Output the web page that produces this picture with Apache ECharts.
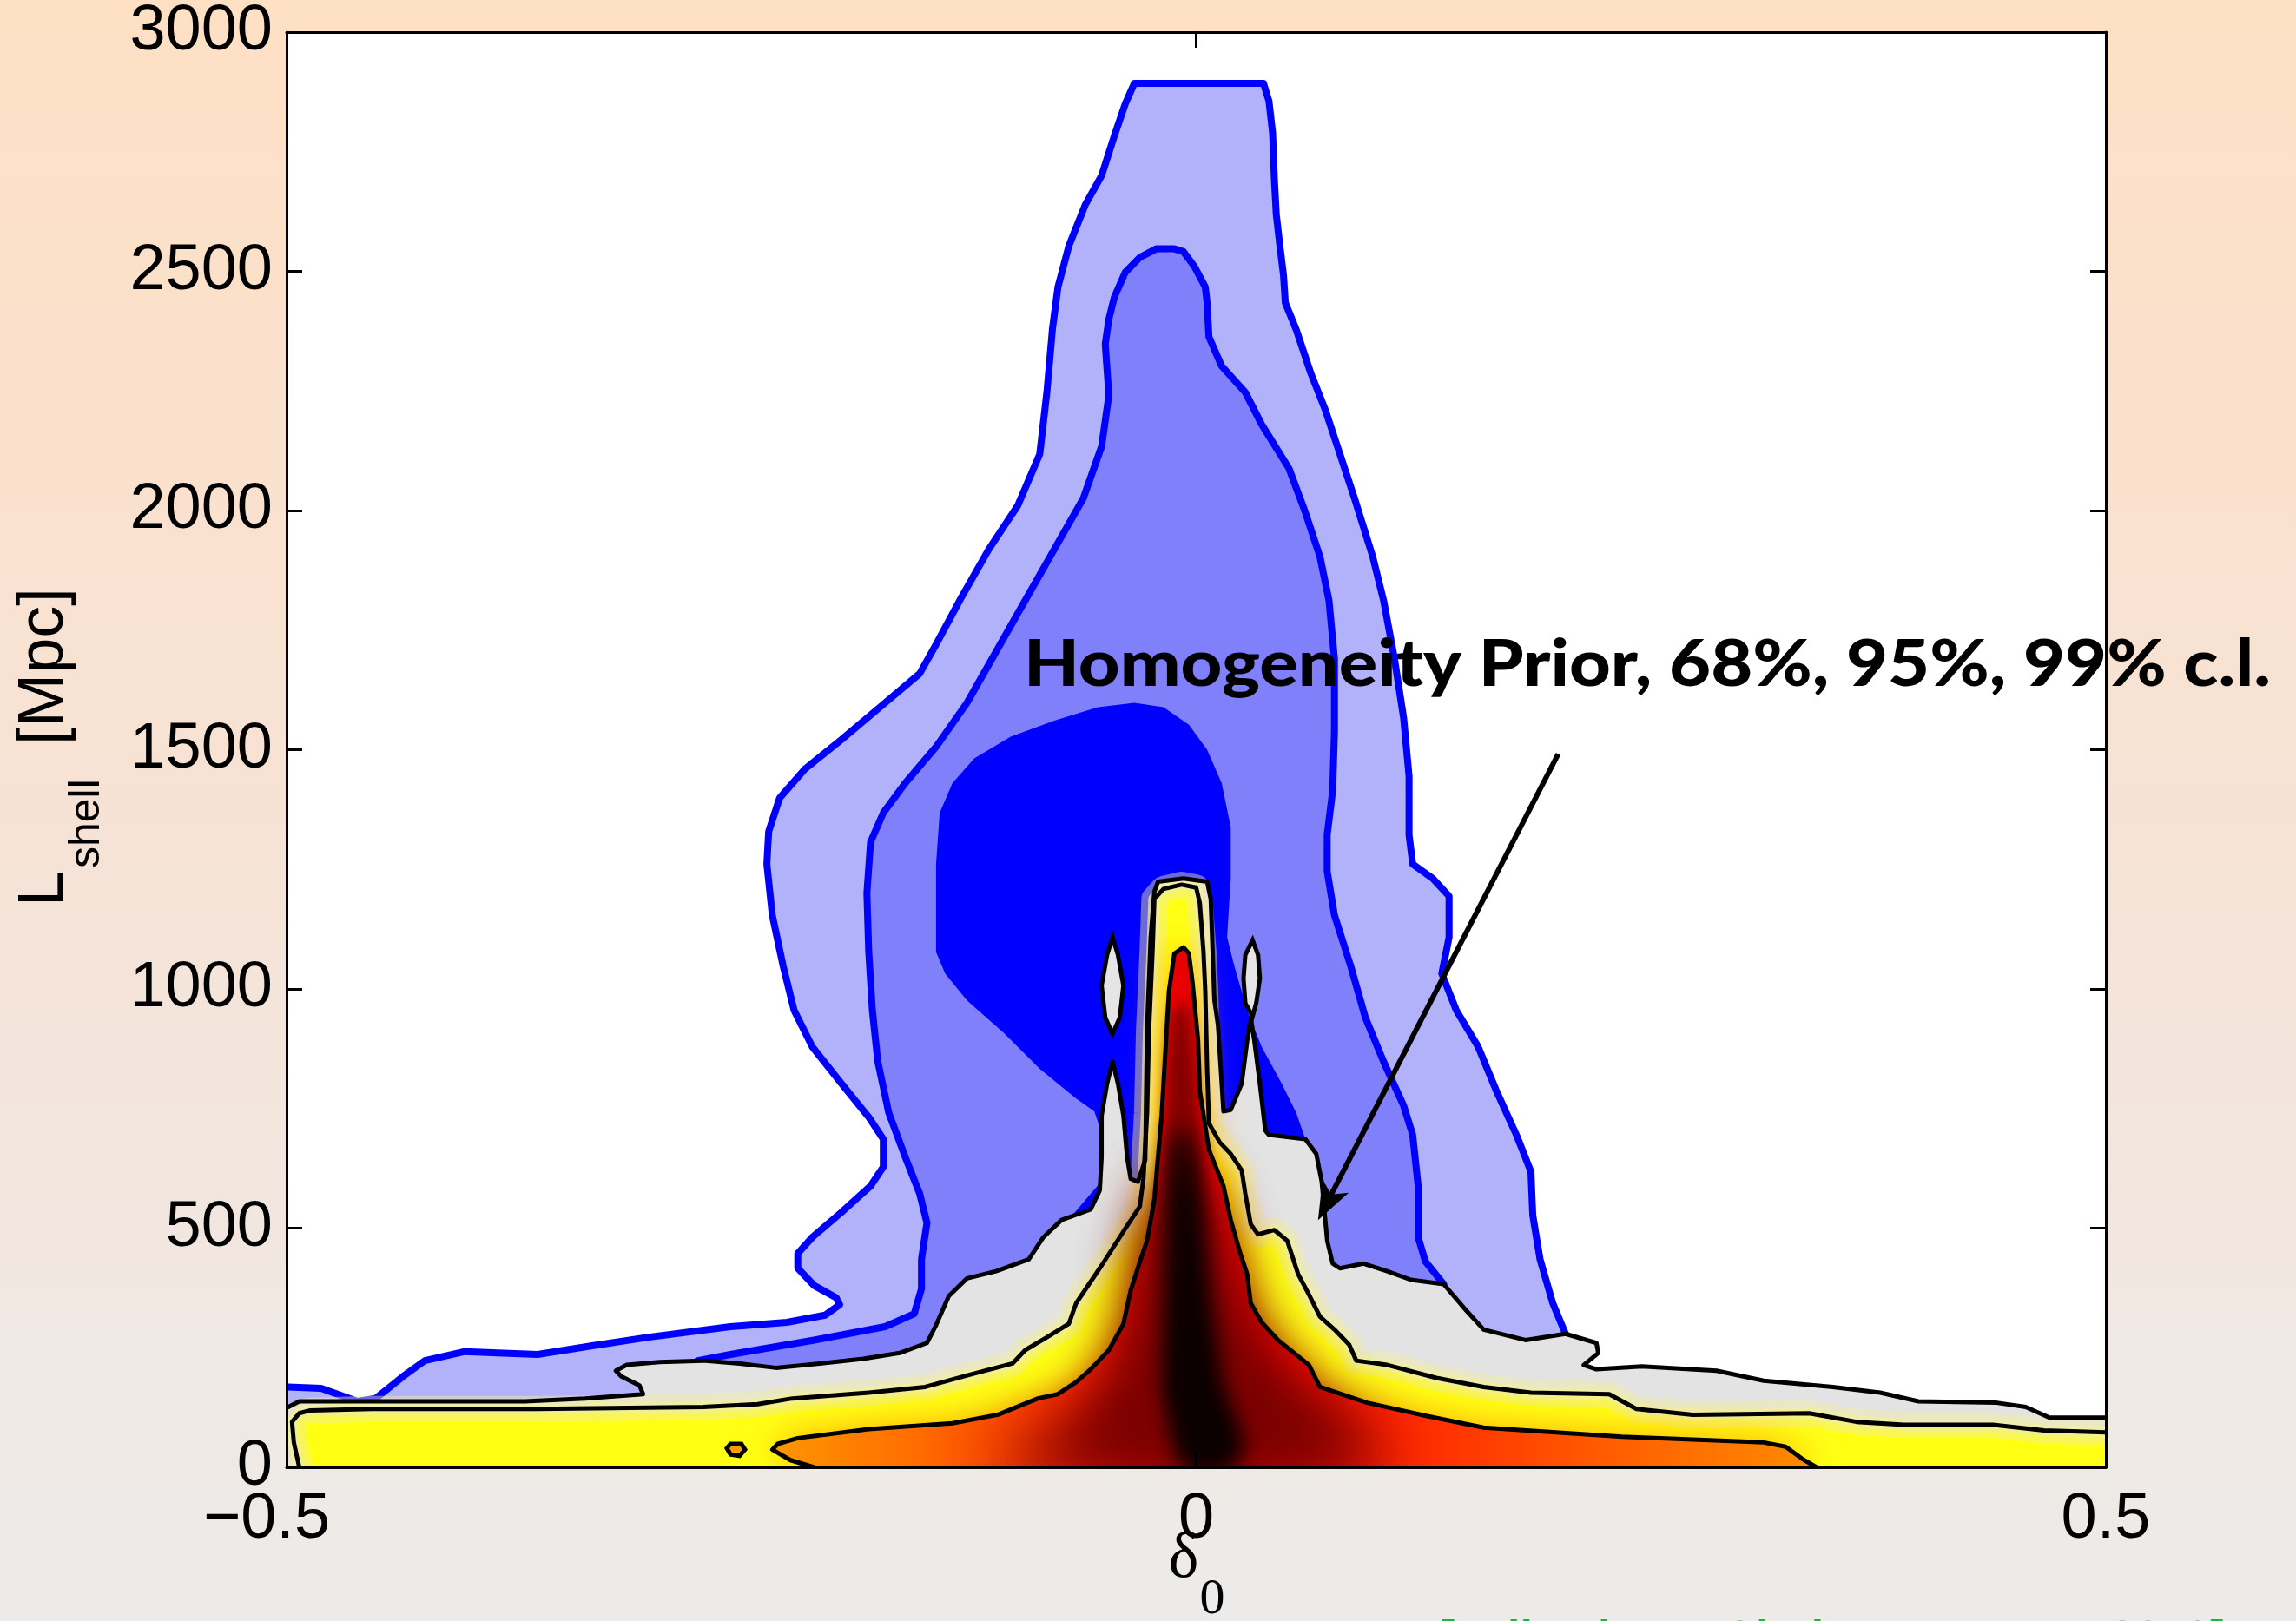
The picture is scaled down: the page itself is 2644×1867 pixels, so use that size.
<!DOCTYPE html>
<html><head><meta charset="utf-8">
<script src="https://cdn.jsdelivr.net/npm/echarts@6/dist/echarts.min.js"></script>
<style>html,body{margin:0;padding:0;background:#f3e5da;}#c{width:2644px;height:1867px;}</style>
</head><body><div id="c"></div>
<script>
// ---- axis ticks ----
const xTicks = [-0.5, 0, 0.5];
const yTicks = [0, 500, 1000, 1500, 2000, 2500, 3000];

// ---- homogeneity prior contours (blue), [delta0, L_shell] ----
const priorOuter99 = [[-0.499,0],[-0.499,168],[-0.481,165],[-0.461,138],[-0.451,144],[-0.436,190],[-0.424,223],[-0.402,242],[-0.384,239],[-0.362,236],[-0.332,254],[-0.301,272],[-0.256,294],[-0.225,303],[-0.204,318],[-0.196,340],[-0.198,355],[-0.210,380],[-0.219,416],[-0.219,447],[-0.211,481],[-0.195,533],[-0.179,588],[-0.172,628],[-0.172,686],[-0.180,732],[-0.195,802],[-0.211,879],[-0.221,955],[-0.227,1047],[-0.233,1154],[-0.236,1261],[-0.235,1329],[-0.229,1399],[-0.215,1460],[-0.195,1521],[-0.171,1598],[-0.152,1659],[-0.143,1720],[-0.130,1812],[-0.114,1919],[-0.098,2011],[-0.086,2118],[-0.082,2250],[-0.079,2380],[-0.076,2467],[-0.070,2553],[-0.061,2639],[-0.052,2700],[-0.045,2783],[-0.039,2850],[-0.034,2893],[0.037,2893],[0.040,2856],[0.042,2789],[0.043,2691],[0.044,2620],[0.046,2553],[0.048,2492],[0.049,2434],[0.055,2378],[0.063,2287],[0.071,2210],[0.079,2118],[0.087,2026],[0.097,1904],[0.103,1812],[0.109,1690],[0.114,1567],[0.117,1445],[0.117,1322],[0.119,1261],[0.130,1231],[0.139,1194],[0.139,1108],[0.135,1032],[0.143,955],[0.155,879],[0.165,787],[0.176,695],[0.184,618],[0.185,527],[0.189,435],[0.196,343],[0.203,279],[0.203,0]];
const priorMid95 = [[-0.274,0],[-0.274,223],[-0.256,236],[-0.210,266],[-0.171,294],[-0.155,321],[-0.151,373],[-0.151,435],[-0.148,511],[-0.152,572],[-0.160,649],[-0.169,741],[-0.175,848],[-0.178,955],[-0.180,1078],[-0.181,1200],[-0.179,1307],[-0.172,1368],[-0.160,1430],[-0.143,1506],[-0.126,1598],[-0.110,1705],[-0.094,1812],[-0.078,1919],[-0.062,2026],[-0.052,2134],[-0.048,2241],[-0.050,2348],[-0.048,2400],[-0.045,2446],[-0.039,2498],[-0.031,2529],[-0.022,2547],[-0.012,2547],[-0.007,2541],[-0.001,2510],[0.005,2467],[0.006,2434],[0.007,2363],[0.014,2302],[0.027,2247],[0.036,2180],[0.051,2088],[0.060,1996],[0.068,1904],[0.073,1812],[0.076,1690],[0.076,1537],[0.075,1414],[0.072,1322],[0.072,1246],[0.076,1154],[0.085,1047],[0.093,940],[0.103,848],[0.114,756],[0.119,695],[0.122,588],[0.122,481],[0.126,430],[0.136,383],[0.136,0]];
const priorInner68 = [[-0.143,1077],[-0.143,1261],[-0.141,1368],[-0.134,1430],[-0.122,1482],[-0.102,1527],[-0.078,1561],[-0.054,1589],[-0.034,1598],[-0.018,1589],[-0.004,1552],[0.006,1500],[0.014,1430],[0.019,1338],[0.019,1231],[0.017,1108],[0.021,1047],[0.028,955],[0.036,879],[0.047,802],[0.055,741],[0.060,686],[0.061,618],[-0.038,496],[-0.068,527],[-0.053,594],[-0.053,710],[-0.056,744],[-0.066,771],[-0.086,833],[-0.106,909],[-0.126,976],[-0.138,1032]];

// ---- posterior contours (black lines) ----
const homog99 = [[-0.499,0],[-0.499,126],[-0.493,138],[-0.432,138],[-0.369,138],[-0.336,144],[-0.304,153],[-0.306,171],[-0.316,190],[-0.319,202],[-0.313,214],[-0.295,220],[-0.271,223],[-0.251,217],[-0.231,208],[-0.207,217],[-0.183,227],[-0.163,239],[-0.148,260],[-0.143,297],[-0.136,358],[-0.126,395],[-0.110,410],[-0.092,435],[-0.084,481],[-0.074,517],[-0.058,539],[-0.053,579],[-0.052,649],[-0.052,735],[-0.049,802],[-0.046,848],[-0.043,802],[-0.040,735],[-0.038,649],[-0.036,603],[-0.032,597],[-0.028,643],[-0.027,918],[-0.025,1108],[-0.023,1203],[-0.021,1224],[-0.007,1231],[0.006,1224],[0.008,1188],[0.010,977],[0.012,924],[0.015,744],[0.019,747],[0.025,802],[0.028,891],[0.030,940],[0.032,891],[0.035,802],[0.038,704],[0.040,695],[0.060,686],[0.066,655],[0.069,597],[0.072,474],[0.075,426],[0.079,416],[0.092,426],[0.105,410],[0.118,392],[0.136,383],[0.147,334],[0.158,288],[0.181,266],[0.203,279],[0.220,260],[0.221,239],[0.213,214],[0.220,205],[0.245,211],[0.286,202],[0.312,181],[0.350,168],[0.376,156],[0.397,138],[0.440,135],[0.456,126],[0.469,104],[0.500,104],[0.500,0]];
const homog99LensL = [[-0.046,1108],[-0.043,1071],[-0.040,1007],[-0.042,940],[-0.046,906],[-0.050,940],[-0.052,1007],[-0.049,1071]];
const homog99LensR = [[0.031,1102],[0.034,1071],[0.035,1022],[0.033,970],[0.031,943],[0.027,970],[0.026,1022],[0.027,1071]];
const homog95 = [[-0.493,0],[-0.496,52],[-0.497,95],[-0.493,113],[-0.487,119],[-0.453,122],[-0.362,122],[-0.271,126],[-0.241,132],[-0.222,144],[-0.180,156],[-0.149,168],[-0.125,193],[-0.101,217],[-0.094,245],[-0.082,272],[-0.070,300],[-0.066,343],[-0.052,422],[-0.039,499],[-0.031,545],[-0.029,603],[-0.027,741],[-0.026,909],[-0.024,1078],[-0.023,1188],[-0.018,1209],[-0.008,1218],[0.000,1212],[0.002,1179],[0.004,1078],[0.005,995],[0.006,833],[0.007,719],[0.013,679],[0.019,655],[0.025,621],[0.027,572],[0.030,508],[0.034,487],[0.043,496],[0.050,474],[0.056,404],[0.062,361],[0.068,315],[0.076,288],[0.084,257],[0.088,223],[0.105,214],[0.132,187],[0.158,168],[0.184,156],[0.227,153],[0.242,122],[0.273,110],[0.337,113],[0.363,95],[0.389,89],[0.438,89],[0.466,77],[0.500,73],[0.500,0]];
const homog68 = [[-0.210,0],[-0.223,15],[-0.233,37],[-0.230,49],[-0.219,61],[-0.180,80],[-0.134,92],[-0.109,110],[-0.087,144],[-0.076,153],[-0.066,178],[-0.058,205],[-0.048,245],[-0.040,300],[-0.036,370],[-0.031,429],[-0.027,474],[-0.023,560],[-0.019,735],[-0.015,995],[-0.012,1074],[-0.007,1087],[-0.004,1074],[-0.002,1013],[0.001,894],[0.002,787],[0.007,664],[0.015,588],[0.019,517],[0.024,450],[0.028,404],[0.030,343],[0.036,303],[0.045,266],[0.062,214],[0.068,168],[0.094,135],[0.127,107],[0.158,83],[0.234,64],[0.312,52],[0.324,43],[0.333,18],[0.341,0]];
const homog68Loop = [[-0.256,49],[-0.250,49],[-0.248,37],[-0.251,24],[-0.256,27],[-0.258,40]];
// higher-density shading levels (visual estimate of the colour map)
const densityBroad = [[-0.022,540],[-0.008,600],[0.004,540],[0.012,420],[0.026,280],[0.048,170],[0.080,80],[0.105,0],[-0.115,0],[-0.075,55],[-0.045,150],[-0.030,300],[-0.026,450]];
const densitySpike = [[-0.013,950],[-0.008,975],[-0.004,950],[0.000,800],[0.005,600],[0.009,400],[0.011,100],[-0.025,100],[-0.021,400],[-0.018,650],[-0.016,850]];
const densityPeak = [[-0.011,700],[-0.006,700],[0.000,560],[0.004,380],[0.011,180],[0.024,40],[0.018,0],[-0.006,0],[-0.016,160],[-0.014,400],[-0.013,580]];

// ---- annotation ----
const annotationText = 'Homogeneity Prior, 68%, 95%, 99% c.l.';
const arrowFrom = [0.199, 1491];
const arrowTo = [0.067, 517];

const chart = echarts.init(document.getElementById('c'), null, {renderer: 'canvas'});

function renderAll(params, api) {
  if (params.dataIndex !== 0) return null;
  const P = pts => pts.map(p => api.coord(p));
  const ch = [];
  const poly = (pts, style) => ch.push({type: 'polygon', shape: {points: P(pts)}, style: style});
  const line = (pts, style) => ch.push({type: 'polyline', shape: {points: P(pts)},
    style: Object.assign({fill: null, lineJoin: 'round', lineCap: 'round'}, style)});
  const OFF = 6000;
  // soft-edged layer: only the blurred shadow of the shape falls in the plot
  const glow = (pts, color, blur, times) => {
    const pp = P(pts).map(p => [p[0] - OFF, p[1]]);
    for (let k = 0; k < times; k++) {
      ch.push({type: 'polygon', shape: {points: pp},
        style: {fill: color, shadowBlur: blur, shadowColor: color, shadowOffsetX: OFF, shadowOffsetY: 0}});
    }
  };
  const BLUE = {stroke: '#0000ff', lineWidth: 8};
  const BLACK = {stroke: '#000000', lineWidth: 5};

  poly(priorOuter99, {fill: '#b2b2fb'});
  line(priorOuter99.slice(1, -1), BLUE);
  poly(priorMid95, {fill: '#8080fb'});
  line(priorMid95.slice(1, -1), BLUE);
  poly(priorInner68, {fill: '#0000ff'});

  poly(homog99, {fill: '#e3e3e3'});
  poly(homog99LensL, {fill: '#e5e5e5'});
  poly(homog99LensR, {fill: '#e5e5e5'});
  poly(homog95, {fill: '#ffff14'});
  // pale rim either side of the 95% line
  line(homog95.slice(0, -1), {stroke: 'rgba(240,236,160,0.45)', lineWidth: 30});
  line(homog95.slice(0, -1), {stroke: 'rgba(242,238,160,0.7)', lineWidth: 14});

  const gx0 = api.coord([-0.25, 0])[0], gx1 = api.coord([0.35, 0])[0];
  const t = x => (x + 0.25) / 0.6;
  const redGrad = new echarts.graphic.LinearGradient(gx0, 0, gx1, 0, [
    {offset: 0, color: '#ffa000'}, {offset: t(-0.15), color: '#ff6a00'},
    {offset: t(-0.07), color: '#ff2a00'}, {offset: t(-0.02), color: '#f00000'},
    {offset: t(0.0), color: '#e40000'}, {offset: t(0.04), color: '#f40000'},
    {offset: t(0.12), color: '#ff2a00'}, {offset: t(0.22), color: '#ff5a00'},
    {offset: 1, color: '#ff9000'}], true);
  poly(homog68, {fill: redGrad, shadowBlur: 40, shadowColor: '#ffa000'});
  poly(homog68Loop, {fill: '#ff9a00'});
  glow(densityBroad, '#7a0000', 70, 2);
  glow(densitySpike, '#850000', 16, 1);
  glow(densityPeak, '#0a0000', 28, 2);

  line(homog99.slice(1, -1), BLACK);
  ch.push({type: 'polygon', shape: {points: P(homog99LensL)}, style: Object.assign({fill: null}, BLACK)});
  ch.push({type: 'polygon', shape: {points: P(homog99LensR)}, style: Object.assign({fill: null}, BLACK)});
  line(homog95.slice(0, -1), BLACK);
  line(homog68, BLACK);
  ch.push({type: 'polygon', shape: {points: P(homog68Loop)}, style: Object.assign({fill: null}, BLACK)});

  // arrow
  const p0 = api.coord(arrowFrom), p1 = api.coord(arrowTo);
  let dx = p1[0] - p0[0], dy = p1[1] - p0[1];
  const len = Math.sqrt(dx * dx + dy * dy); dx /= len; dy /= len;
  const L = 44, W = 17;
  const bx = p1[0] - dx * L, by = p1[1] - dy * L;
  ch.push({type: 'line', shape: {x1: p0[0], y1: p0[1], x2: p1[0] - dx * L * 0.7, y2: p1[1] - dy * L * 0.7},
    style: {stroke: '#000', lineWidth: 6}});
  ch.push({type: 'polygon', shape: {points: [p1, [bx - dy * W, by + dx * W], [p1[0] - dx * L * 0.75, p1[1] - dy * L * 0.75], [bx + dy * W, by - dx * W]]},
    style: {fill: '#000'}});
  return {type: 'group', children: ch};
}

const axisCommon = {
  axisLine: {show: true, onZero: false, lineStyle: {color: '#000', width: 3}},
  axisTick: {show: true, inside: true, length: 18, lineStyle: {color: '#000', width: 3}},
  splitLine: {show: false},
  z: 10
};
const labelStyle = {fontSize: 74, fontFamily: 'Liberation Sans', color: '#000'};

chart.setOption({
  animation: false,
  backgroundColor: new echarts.graphic.LinearGradient(0, 0, 0, 1, [
    {offset: 0, color: '#fee0c4'}, {offset: 0.5, color: '#f6e2d5'}, {offset: 1, color: '#ecebe9'}]),
  grid: {left: 330, right: 219, top: 37, bottom: 177, show: true, backgroundColor: '#ffffff', borderWidth: 0, containLabel: false, outerBoundsMode: 'none'},
  xAxis: [
    Object.assign({type: 'value', min: xTicks[0], max: xTicks[xTicks.length - 1], interval: xTicks[1] - xTicks[0], position: 'bottom',
      axisLabel: Object.assign({show: true, margin: 24,
        formatter: v => (v < 0 ? '{neg|\u2212' + Math.abs(v) + '}' : String(v)),
        rich: {neg: {fontSize: 74, fontFamily: 'Liberation Sans', color: '#000', padding: [0, 46, 0, 0]}}}, labelStyle)}, axisCommon),
    Object.assign({type: 'value', min: xTicks[0], max: xTicks[xTicks.length - 1], interval: xTicks[1] - xTicks[0], position: 'top',
      axisLabel: {show: false}}, axisCommon)
  ],
  yAxis: [
    Object.assign({type: 'value', min: yTicks[0], max: yTicks[yTicks.length - 1], interval: yTicks[1] - yTicks[0], position: 'left',
      axisLabel: Object.assign({show: true, margin: 16, formatter: v => String(v)}, labelStyle)}, axisCommon),
    Object.assign({type: 'value', min: yTicks[0], max: yTicks[yTicks.length - 1], interval: yTicks[1] - yTicks[0], position: 'right',
      axisLabel: {show: false}}, axisCommon)
  ],
  series: [{
    type: 'custom', xAxisIndex: 0, yAxisIndex: 0, clip: true, silent: true,
    data: [[0, 0]], renderItem: renderAll, z: 2
  }],
  graphic: [
    {type: 'text', x: 1179, y: 766, scaleX: 1.12, z: 100, style: {text: annotationText, font: '900 74px Lato', fill: '#000', textAlign: 'left', textVerticalAlign: 'middle', verticalAlign: 'middle'}},
    {type: 'text', x: 52, y: 1044, rotation: Math.PI / 2, style: {text: 'L', font: '74px "Liberation Sans"', fill: '#000', textAlign: 'left', textVerticalAlign: 'middle', verticalAlign: 'middle'}},
    {type: 'text', x: 100, y: 1000, rotation: Math.PI / 2, style: {text: 'shell', font: '50px "Liberation Sans"', fill: '#000', textAlign: 'left', textVerticalAlign: 'middle', verticalAlign: 'middle'}},
    {type: 'text', x: 52, y: 858, rotation: Math.PI / 2, style: {text: '[Mpc]', font: '74px "Liberation Sans"', fill: '#000', textAlign: 'left', textVerticalAlign: 'middle', verticalAlign: 'middle'}},
    {type: 'text', x: 1363, y: 1797, style: {text: '\u03b4', font: '74px "Liberation Serif"', fill: '#000', textAlign: 'center', textVerticalAlign: 'middle', verticalAlign: 'middle'}},
    {type: 'text', x: 1396, y: 1843, style: {text: '0', font: '58px "Liberation Serif"', fill: '#000', textAlign: 'center', textVerticalAlign: 'middle', verticalAlign: 'middle'}},
    {type: 'text', x: 1658, y: 1863, style: {text: '[Valkenburg, Clarkson & Marra 2013]', font: 'bold 52px "Liberation Sans"', fill: '#22b33a', textAlign: 'left', textVerticalAlign: 'top', verticalAlign: 'top'}}
  ]
});
</script></body></html>
